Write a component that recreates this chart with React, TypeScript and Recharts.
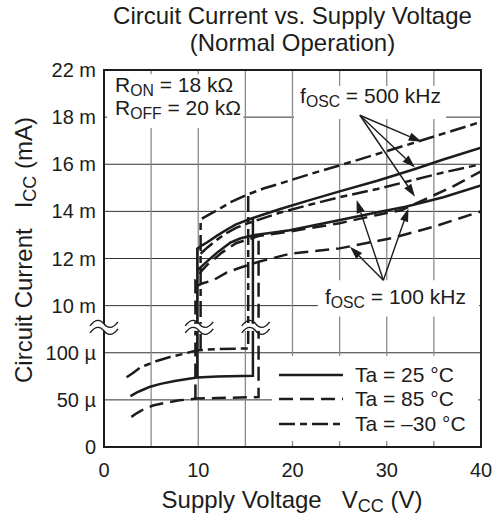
import React from 'react';
import {
  LineChart,
  Line,
  XAxis,
  YAxis,
  CartesianGrid,
  ReferenceLine,
  ReferenceDot,
  ReferenceArea,
  Legend,
  Customized,
} from 'recharts';

// ---------- axes ----------
const X_TICKS = [0, 5, 10, 15, 20, 25, 30, 35, 40];
const X_TICK_LABELS = ['0', '', '10', '', '20', '', '30', '', '40'];
const Y_TICKS = [0, 1, 2, 3, 4, 5, 6, 7, 8];
const Y_TICK_LABELS = ['0', '50 µ', '100 µ', '10 m', '12 m', '14 m', '16 m', '18 m', '22 m'];

// ---------- data: supply voltage (V) / circuit current (mA) ----------
// Ta = -30 °C standby + start jump
const S30_V = [2.4, 3.0, 3.8, 4.5, 5.5, 7.0, 8.5, 9.8, 12.0, 15.3, 15.3];
const S30_I = [0.074, 0.078, 0.084, 0.087, 0.091, 0.0955, 0.099, 0.1025, 0.104, 0.1045, 14.72];
// Ta = 25 °C standby + start jump
const S25_V = [2.8, 3.5, 4.2, 4.9, 6.0, 7.5, 9.0, 9.9, 12.0, 15.8, 15.8];
const S25_I = [0.054, 0.058, 0.061, 0.064, 0.067, 0.07, 0.0725, 0.0738, 0.0748, 0.0755, 13.72];
// Ta = 85 °C standby + start jump
const S85_V = [2.9, 3.5, 4.2, 5.2, 6.5, 8.0, 9.8, 12.0, 16.4, 16.4];
const S85_I = [0.032, 0.036, 0.04, 0.044, 0.047, 0.0495, 0.0514, 0.052, 0.053, 12.95];

// 500 kHz, -30 °C
const A_V = [10.25, 10.25, 11, 12, 13.5, 15, 17, 19, 22, 25, 28.7, 32.8, 36, 40];
const A_I = [0.103, 13.66, 13.83, 14.05, 14.4, 14.68, 14.98, 15.22, 15.6, 15.95, 16.4, 16.9, 17.3, 17.8];
// 500 kHz, 25 °C
const B_V = [9.9, 9.9, 10.5, 11, 12, 13, 14, 15.8, 18.7, 22, 25, 29, 33, 36, 40];
const B_I = [0.0738, 12.42, 12.58, 12.7, 12.97, 13.22, 13.45, 13.72, 14.1, 14.5, 14.85, 15.3, 15.8, 16.2, 16.7];
// 500 kHz, 85 °C
const CP_V = [9.7, 9.7, 10.4, 11, 12.5, 14, 16.4, 19, 22, 25, 29, 31.6, 34, 37, 40];
const CP_I = [0.0514, 11.1, 11.5, 11.75, 12.25, 12.65, 12.95, 13.1, 13.3, 13.5, 13.85, 14.06, 14.5, 15.05, 15.7];
// 100 kHz, -30 °C
const BP_V = [10.25, 11, 12, 13, 14, 15.3, 18.7, 22, 25, 29, 33, 36, 40];
const BP_I = [12.2, 12.48, 12.8, 13.08, 13.3, 13.5, 13.95, 14.3, 14.6, 14.95, 15.35, 15.65, 16.0];
// 100 kHz, 25 °C
const C_V = [9.9, 10.5, 11, 12, 13.4, 14.5, 16, 18, 19.7, 24, 29.3, 32, 36, 40];
const C_I = [11.5, 11.72, 11.9, 12.25, 12.67, 12.86, 13.0, 13.1, 13.2, 13.55, 13.98, 14.2, 14.6, 15.1];
// 100 kHz, 85 °C
const D_V = [9.7, 10.5, 11.6, 13, 14.5, 16.4, 19.7, 25, 30.5, 35, 40];
const D_I = [10.8, 10.95, 11.08, 11.4, 11.62, 11.86, 12.2, 12.43, 12.86, 13.35, 14.0];

// arrows (V, mA)
const ARROW500_FROM = { v: 27.15, i: 18.08 };
const ARROW500_TO = [
  { v: 33.7, i: 16.95 },
  { v: 33.0, i: 15.86 },
  { v: 33.0, i: 14.62 },
];
const ARROW100_FROM = { v: 29.64, i: 11.08 };
const ARROW100_TO = [
  { v: 26.1, i: 12.5 },
  { v: 26.8, i: 14.48 },
  { v: 32.3, i: 14.12 },
];

const LEGEND_LABELS = ['Ta = 25 °C', 'Ta = 85 °C', 'Ta = \u201330 °C'];

// ---------- styles ----------
const INK = '#1c1c1c';
const FONT = '"Liberation Sans", Arial, Helvetica, sans-serif';
const DASH_SOLID = undefined;
const DASH_85 = '14 7';
const DASH_M30 = '16 5 7 5';
const LEGEND_DASH = [DASH_SOLID, DASH_85, DASH_M30];
const LW = 2.5;

// broken axis: 0..100 µA on lower part, 10 mA.. on upper part
const toDisp = (mA: number) => (mA < 1 ? mA / 0.05 : 3 + (mA - 10) / 2);
const build = (v: number[], i: number[]) => v.map((x, k) => ({ v: x, y: toDisp(i[k]) }));

const SERIES = [
  { key: 's30', data: build(S30_V, S30_I), dash: DASH_M30 },
  { key: 's25', data: build(S25_V, S25_I), dash: DASH_SOLID },
  { key: 's85', data: build(S85_V, S85_I), dash: DASH_85 },
  { key: 'a', data: build(A_V, A_I), dash: DASH_M30 },
  { key: 'b', data: build(B_V, B_I), dash: DASH_SOLID },
  { key: 'cp', data: build(CP_V, CP_I), dash: DASH_85 },
  { key: 'bp', data: build(BP_V, BP_I), dash: DASH_M30 },
  { key: 'c', data: build(C_V, C_I), dash: DASH_SOLID },
  { key: 'd', data: build(D_V, D_I), dash: DASH_85 },
];

const Arrow = (p: any) => {
  const { x1, y1, x2, y2 } = p;
  const dx = x2 - x1;
  const dy = y2 - y1;
  const len = Math.sqrt(dx * dx + dy * dy) || 1;
  const ux = dx / len;
  const uy = dy / len;
  const hl = 13;
  const hw = 4.2;
  const bx = x2 - ux * hl;
  const by = y2 - uy * hl;
  return (
    <g>
      <line x1={x1} y1={y1} x2={bx} y2={by} stroke={INK} strokeWidth={1.4} />
      <polygon
        points={`${x2},${y2} ${bx - uy * hw},${by + ux * hw} ${bx + uy * hw},${by - ux * hw}`}
        fill={INK}
      />
    </g>
  );
};

const BreakMark = (p: any) => {
  const { cx, cy } = p;
  const w = 14;
  const wave = (y0: number) =>
    `M ${cx - w} ${y0 + 2} C ${cx - w + 6} ${y0 - 6} ${cx - 3} ${y0 - 4} ${cx} ${y0} S ${cx + w - 6} ${y0 + 6} ${cx + w} ${y0 - 2}`;
  return (
    <g>
      <rect x={cx - w + 2} y={cy - 3} width={2 * w - 4} height={7} fill="#fff" />
      <path d={wave(cy - 3)} fill="none" stroke={INK} strokeWidth={1.4} />
      <path d={wave(cy + 4)} fill="none" stroke={INK} strokeWidth={1.4} />
    </g>
  );
};

const SubLabel = ({ x, y, main, sub, rest, size = 21 }: any) => (
  <text x={x} y={y} fontSize={size} fontFamily={FONT} fill={INK}>
    {main}
    <tspan fontSize={size * 0.75} dy={4}>
      {sub}
    </tspan>
    <tspan dy={-4}>{rest}</tspan>
  </text>
);

const LegendBox = () => (
  <svg width={206} height={85} style={{ display: 'block', background: '#fff' }}>
    {LEGEND_LABELS.map((lab, k) => {
      const y = [19, 43, 68][k];
      return (
        <g key={lab}>
          <line x1={7} x2={71} y1={y} y2={y} stroke={INK} strokeWidth={2.6} strokeDasharray={LEGEND_DASH[k]} />
          <text x={83} y={y + 7} fontSize={21} fontFamily={FONT} fill={INK}>
            {lab}
          </text>
        </g>
      );
    })}
  </svg>
);

const AxisTitles = () => (
  <g fontFamily={FONT} fill={INK}>
    <text x={292} y={508} fontSize={24} textAnchor="middle">
      <tspan>Supply Voltage</tspan>
      <tspan dx={20}>V</tspan>
      <tspan fontSize={18} dy={4}>CC</tspan>
      <tspan dy={-4}> (V)</tspan>
    </text>
    <text x={0} y={0} fontSize={24} textAnchor="middle" transform="translate(32 250) rotate(-90)">
      <tspan>Circuit Current</tspan>
      <tspan dx={20}>I</tspan>
      <tspan fontSize={18} dy={4}>CC</tspan>
      <tspan dy={-4}> (mA)</tspan>
    </text>
  </g>
);

export default function App() {
  return (
    <div
      style={{
        position: 'absolute',
        left: 0,
        top: 0,
        width: 498,
        height: 517,
        background: '#fff',
        fontFamily: FONT,
      }}
    >
      <div
        style={{
          position: 'absolute',
          left: 84,
          width: 417,
          top: 2,
          textAlign: 'center',
          fontSize: 24,
          lineHeight: '27px',
          color: INK,
        }}
      >
        Circuit Current vs. Supply Voltage
        <br />
        (Normal Operation)
      </div>
      <LineChart width={498} height={517} margin={{ top: 70, right: 17, bottom: 40, left: 0 }}>
        <CartesianGrid vertical={false} stroke="#333" strokeWidth={1} />
        <CartesianGrid horizontal={false} stroke="#8a8a8a" strokeWidth={1.3} />
        <XAxis
          dataKey="v"
          type="number"
          domain={[0, 40]}
          ticks={X_TICKS}
          tickFormatter={(v: number) => X_TICK_LABELS[X_TICKS.indexOf(v)] ?? ''}
          allowDataOverflow
          axisLine={false}
          tickLine={false}
          tickSize={6}
          tickMargin={10}
          height={30}
          tick={{ fontSize: 20, fill: INK, fontFamily: FONT }}
        />
        <YAxis
          type="number"
          domain={[0, 8]}
          ticks={Y_TICKS}
          tickFormatter={(v: number) => Y_TICK_LABELS[v] ?? ''}
          allowDataOverflow
          axisLine={false}
          tickLine={false}
          tickSize={6}
          tickMargin={2}
          width={104}
          tick={{ fontSize: 20, fill: INK, fontFamily: FONT }}
        />
        {/* white label backgrounds */}
        <ReferenceArea x1={0.32} x2={14.8} y1={6.77} y2={7.91} fill="#fff" fillOpacity={1} stroke="none" />
        <ReferenceArea x1={20.16} x2={36.3} y1={6.96} y2={7.66} fill="#fff" fillOpacity={1} stroke="none" />
        <ReferenceArea x1={22.7} x2={39.8} y1={2.77} y2={3.54} fill="#fff" fillOpacity={1} stroke="none" />
        {SERIES.map((s) => (
          <Line
            key={s.key}
            data={s.data}
            dataKey="y"
            type="linear"
            stroke={INK}
            strokeWidth={LW}
            strokeDasharray={s.dash}
            dot={false}
            activeDot={false}
            isAnimationActive={false}
          />
        ))}
        {/* axis breaks */}
        <ReferenceDot x={0} y={2.55} r={1} shape={(p: any) => <BreakMark {...p} />} />
        <ReferenceDot x={10.1} y={2.55} r={1} shape={(p: any) => <BreakMark {...p} />} />
        <ReferenceDot x={16.1} y={2.55} r={1} shape={(p: any) => <BreakMark {...p} />} />
        {/* arrows */}
        {ARROW500_TO.map((t, k) => (
          <ReferenceLine
            key={'a5' + k}
            segment={[
              { x: ARROW500_FROM.v, y: toDisp(ARROW500_FROM.i) },
              { x: t.v, y: toDisp(t.i) },
            ]}
            shape={(p: any) => <Arrow {...p} />}
          />
        ))}
        {ARROW100_TO.map((t, k) => (
          <ReferenceLine
            key={'a1' + k}
            segment={[
              { x: ARROW100_FROM.v, y: toDisp(ARROW100_FROM.i) },
              { x: t.v, y: toDisp(t.i) },
            ]}
            shape={(p: any) => <Arrow {...p} />}
          />
        ))}
        {/* annotation texts */}
        <ReferenceDot
          x={1.17}
          y={7.537}
          r={1}
          shape={(p: any) => (
            <g>
              <SubLabel x={p.cx} y={p.cy} main="R" sub="ON" rest=" = 18 kΩ" />
              <SubLabel x={p.cx} y={p.cy + 23.3} main="R" sub="OFF" rest=" = 20 kΩ" />
            </g>
          )}
        />
        <ReferenceDot
          x={20.8}
          y={7.29}
          r={1}
          shape={(p: any) => <SubLabel x={p.cx} y={p.cy} main="f" sub="OSC" rest=" = 500 kHz" />}
        />
        <ReferenceDot
          x={23.45}
          y={3.045}
          r={1}
          shape={(p: any) => <SubLabel x={p.cx} y={p.cy} main="f" sub="OSC" rest=" = 100 kHz" />}
        />
        {/* frame */}
        <ReferenceArea x1={0} x2={40} y1={0} y2={8} fill="none" stroke={INK} strokeWidth={2} />
        <Legend
          layout="horizontal"
          verticalAlign="middle"
          align="center"
          wrapperStyle={{ position: 'absolute', left: 272, top: 356, width: 206, height: 85 }}
          content={() => <LegendBox />}
        />
        <Customized component={<AxisTitles />} />
      </LineChart>
    </div>
  );
}
